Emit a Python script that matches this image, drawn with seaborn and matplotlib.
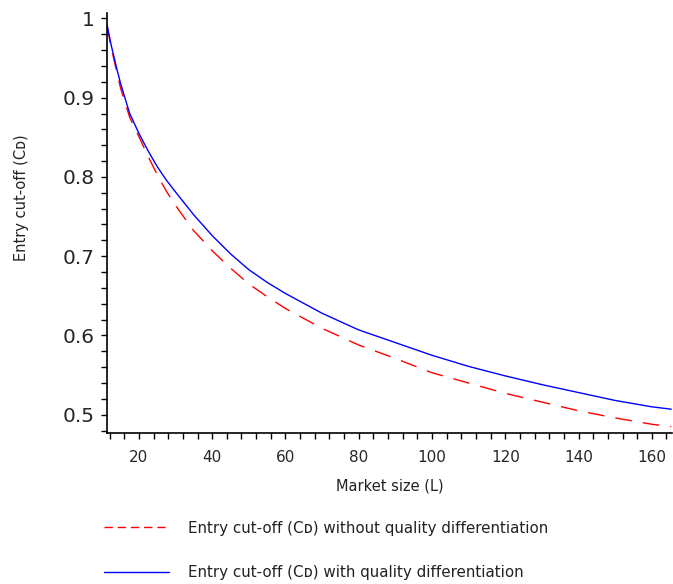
import numpy as np
import pandas as pd
import matplotlib
matplotlib.use("Agg")
import matplotlib.pyplot as plt
from matplotlib.lines import Line2D
from matplotlib.ticker import MultipleLocator
import seaborn as sns

# Data
market_size = [11.3, 12.5, 14, 15, 16.5, 17.5, 20, 22.5, 25, 27.5, 30, 35, 40, 45,
               50, 55, 60, 70, 80, 90, 100, 110, 120, 130, 140, 150, 160, 165.3]
cutoff_without = [0.990, 0.962, 0.932, 0.912, 0.890, 0.875, 0.851, 0.826, 0.803,
                  0.782, 0.764, 0.732, 0.707, 0.685, 0.665, 0.649, 0.634, 0.609,
                  0.588, 0.571, 0.553, 0.540, 0.527, 0.516, 0.505, 0.496, 0.488,
                  0.485]
cutoff_with = [0.992, 0.965, 0.936, 0.918, 0.895, 0.880, 0.855, 0.833, 0.813,
               0.796, 0.781, 0.752, 0.726, 0.703, 0.683, 0.667, 0.653, 0.628,
               0.607, 0.591, 0.575, 0.561, 0.549, 0.538, 0.528, 0.518, 0.510,
               0.507]
label_without = "Entry cut-off (C\u1d05) without quality differentiation"
label_with = "Entry cut-off (C\u1d05) with quality differentiation"
x_label = "Market size (L)"
y_label = "Entry cut-off (C\u1d05)"
x_ticks = [20, 40, 60, 80, 100, 120, 140, 160]
y_ticks = [0.5, 0.6, 0.7, 0.8, 0.9, 1.0]
y_tick_labels = ["0.5", "0.6", "0.7", "0.8", "0.9", "1"]

sns.set_style("ticks")
plt.rcParams["font.family"] = ["DejaVu Sans"]

df = pd.DataFrame({
    "L": market_size * 2,
    "C": cutoff_without + cutoff_with,
    "series": [label_without] * len(market_size) + [label_with] * len(market_size),
})

fig = plt.figure(figsize=(6.73, 5.84), dpi=100)
ax = fig.add_axes([0.159, 0.2586, 0.8395, 0.7194])

sns.lineplot(data=df[df.series == label_without], x="L", y="C", ax=ax,
             color="#ff0000", linewidth=1.0, legend=False)
sns.lineplot(data=df[df.series == label_with], x="L", y="C", ax=ax,
             color="#0000ff", linewidth=1.0, legend=False)
ax.lines[0].set_dashes((12, 8))

ax.set_xlim(11.3, 165.5)
ax.set_ylim(0.477, 1.007)
ax.set_xticks(x_ticks)
ax.set_xticklabels([str(t) for t in x_ticks], fontsize=11)
ax.set_yticks(y_ticks)
ax.set_yticklabels(y_tick_labels, fontsize=14.5)
ax.xaxis.set_minor_locator(MultipleLocator(4))
ax.yaxis.set_minor_locator(MultipleLocator(0.02))
ax.tick_params(axis="both", which="both", direction="out", length=4, width=1,
               color="black")
ax.tick_params(axis="x", which="major", pad=8)
ax.tick_params(axis="y", which="major", pad=5)
for s in ["top", "right"]:
    ax.spines[s].set_visible(False)
for s in ["left", "bottom"]:
    ax.spines[s].set_color("black")
    ax.spines[s].set_linewidth(1.2)

ax.set_xlabel(x_label, fontsize=10.5, color="#222222")
ax.set_ylabel(y_label, fontsize=10.5, color="#222222")
ax.xaxis.set_label_coords(0.5, -0.108)
ax.yaxis.set_label_coords(-0.138, 0.56)

handles = [Line2D([], [], color="#ff0000", lw=1.0, dashes=(6, 3.5)),
           Line2D([], [], color="#0000ff", lw=1.0)]
fig.legend(handles, [label_without, label_with], loc="upper left",
           bbox_to_anchor=(0.134, 0.132), frameon=False, fontsize=10.9,
           handlelength=4.3, handletextpad=1.26, labelspacing=1.96,
           labelcolor="#222222")

fig.savefig("out.png", dpi=100, facecolor="white")
